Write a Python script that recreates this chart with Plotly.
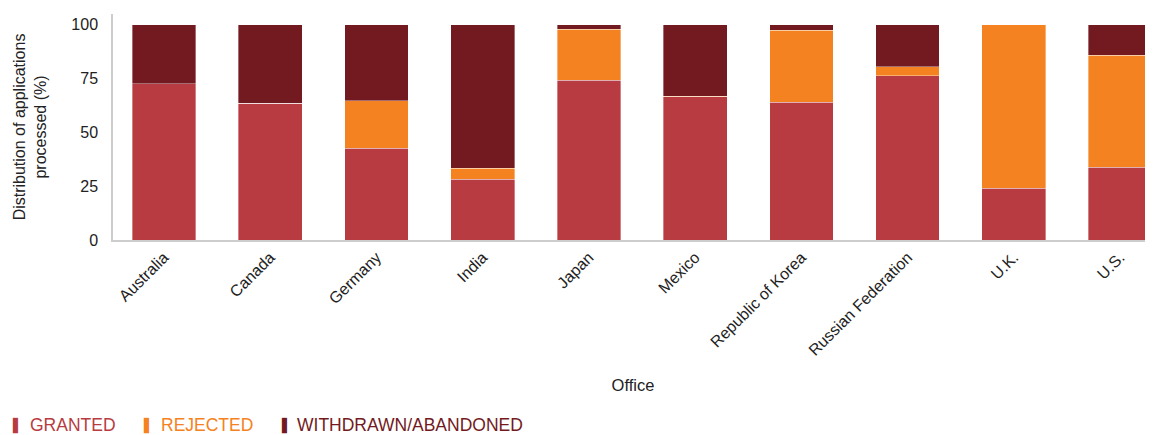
import plotly.graph_objects as go

offices = ["Australia", "Canada", "Germany", "India", "Japan", "Mexico",
           "Republic of Korea", "Russian Federation", "U.K.", "U.S."]
granted = [72.5, 63.6, 42.6, 28.3, 74.3, 66.6, 64.0, 76.2, 24.0, 33.9]
rejected = [0.0, 0.0, 22.0, 5.0, 23.7, 0.3, 33.5, 4.2, 76.0, 52.0]
withdrawn = [27.5, 36.4, 35.4, 66.7, 2.0, 33.1, 2.5, 19.6, 0.0, 14.1]

series_names = ["GRANTED", "REJECTED", "WITHDRAWN/ABANDONED"]
series_values = [granted, rejected, withdrawn]
series_colors = ["#B83B41", "#F58220", "#731A21"]

# page offset of the html body (8px default margin) is compensated in the size
W, H = 1145, 427
ML, MT, MB, MR = 105, 6, 195, 0
PW = W - ML - MR
PH = H - MT - MB

fig = go.Figure()
for name, vals, col in zip(series_names, series_values, series_colors):
    fig.add_trace(go.Bar(
        x=list(range(len(offices))), y=vals, name=name,
        marker=dict(color=col, line=dict(color="rgba(255,255,255,0.6)", width=0.6)),
        width=0.6, showlegend=False,
    ))

# custom legend (symbol + coloured label), positions in page pixels
legend_sym_x = [10, 141, 279]
legend_txt_x = [28, 159, 295]
legend_y = 425
annotations = []
for name, col, sx, tx in zip(series_names, series_colors, legend_sym_x, legend_txt_x):
    py = (H - MB - (legend_y - 8)) / PH
    annotations.append(dict(
        xref="paper", yref="paper", x=(sx - 8 - ML) / PW, y=py,
        xanchor="left", yanchor="middle", showarrow=False,
        text="▌", font=dict(size=13, color=col, family="DejaVu Sans"),
    ))
    annotations.append(dict(
        xref="paper", yref="paper", x=(tx - 8 - ML) / PW, y=py,
        xanchor="left", yanchor="middle", showarrow=False,
        text=name, font=dict(size=17.5, color=col),
    ))

fig.update_layout(
    barmode="stack",
    width=W, height=H,
    margin=dict(l=ML, r=MR, t=MT, b=MB),
    plot_bgcolor="white", paper_bgcolor="white",
    font=dict(family="Liberation Sans, Arial, sans-serif", size=14, color="#222"),
    showlegend=False,
    annotations=annotations,
    xaxis=dict(
        range=[-0.48, 9.31], automargin=False,
        tickmode="array", tickvals=list(range(len(offices))), ticktext=offices,
        tickangle=-45, showgrid=False, showline=True, linecolor="#cccccc", linewidth=1.5,
        ticks="", tickfont=dict(size=16),
        title=dict(text="Office", font=dict(size=16.5), standoff=22),
    ),
    yaxis=dict(
        range=[0, 105], tickvals=[0, 25, 50, 75, 100], showgrid=False, automargin=False,
        showline=True, linecolor="#cccccc", linewidth=1.5, ticks="",
        ticklabelstandoff=10, tickfont=dict(size=16),
        title=dict(text="Distribution of applications<br>processed (%)", font=dict(size=16), standoff=21),
        zeroline=False,
    ),
)

fig.write_html("out.html")
